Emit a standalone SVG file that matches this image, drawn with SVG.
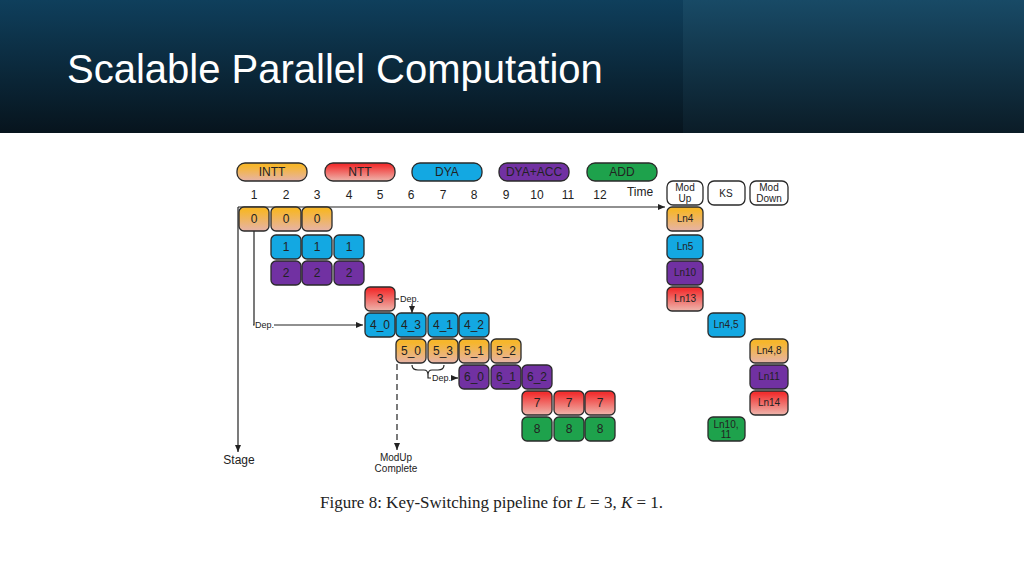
<svg xmlns="http://www.w3.org/2000/svg" width="1024" height="576" viewBox="0 0 1024 576">
<defs>
<linearGradient id="hd" x1="0" y1="0" x2="0" y2="1"><stop offset="0" stop-color="#0f3f5c"/><stop offset="1" stop-color="#07141d"/></linearGradient>
<linearGradient id="hd2" x1="0" y1="0" x2="0" y2="1"><stop offset="0" stop-color="#184a66"/><stop offset="1" stop-color="#0b1c27"/></linearGradient>
<linearGradient id="gi" x1="0" y1="0" x2="0" y2="1"><stop offset="0.15" stop-color="#f6b62c"/><stop offset="1" stop-color="#e6b3a8"/></linearGradient>
<linearGradient id="gn" x1="0" y1="0" x2="0" y2="1"><stop offset="0.1" stop-color="#f23030"/><stop offset="1" stop-color="#eeb6ad"/></linearGradient>
<marker id="ar" markerWidth="8" markerHeight="8" refX="7" refY="4" orient="auto" markerUnits="userSpaceOnUse"><path d="M0,1 L7,4 L0,7z" fill="#222"/></marker>
</defs>
<style>
.b{stroke:#2a2a2a;stroke-width:1.3}
.i{fill:url(#gi)}.n{fill:url(#gn)}.d{fill:#13a8e2}.p{fill:#7131a2}.g{fill:#1ea24c}.w{fill:#fff}
text{font-family:"Liberation Sans",Arial,sans-serif;fill:#222}
.t{font-size:12px;text-anchor:middle}
.s{font-size:10px;text-anchor:middle}
.x{font-size:9px}
.l{stroke:#222;stroke-width:1.2;fill:none}
</style>
<rect width="1024" height="133" fill="url(#hd)"/>
<rect x="683" width="341" height="133" fill="url(#hd2)"/>
<text x="67" y="83" style="font-size:40px;fill:#fff">Scalable Parallel Computation</text>
<g id="legend">
<rect class="b i" x="237" y="163" width="70" height="18" rx="8"/><text class="t" x="272" y="176">INTT</text>
<rect class="b n" x="325" y="163" width="70" height="18" rx="8"/><text class="t" x="360" y="176">NTT</text>
<rect class="b d" x="412" y="163" width="70" height="18" rx="8"/><text class="t" x="447" y="176">DYA</text>
<rect class="b p" x="499" y="163" width="70" height="18" rx="8"/><text class="t" x="534" y="176">DYA+ACC</text>
<rect class="b g" x="587" y="163" width="70" height="18" rx="8"/><text class="t" x="622" y="176">ADD</text>
</g>
<g id="axis">
<g class="t"><text x="254" y="199">1</text><text x="286" y="199">2</text><text x="317" y="199">3</text><text x="349" y="199">4</text><text x="380" y="199">5</text><text x="411" y="199">6</text><text x="443" y="199">7</text><text x="474" y="199">8</text><text x="506" y="199">9</text><text x="537" y="199">10</text><text x="568" y="199">11</text><text x="600" y="199">12</text><text x="640" y="196">Time</text></g>
<text class="t" x="239" y="464">Stage</text>
</g>
<g id="connectors">
<path class="l" d="M238,207 H665" marker-end="url(#ar)"/>
<path class="l" d="M238,207 V452" marker-end="url(#ar)"/>
<path class="l" d="M254,231 V325 H253"/>
<path class="l" d="M274,325 H363" marker-end="url(#ar)"/>
<path class="l" d="M395,299 H399"/>
<path class="l" d="M412,304 V313" marker-end="url(#ar)"/>
<path class="l" d="M397,364 V450" stroke-dasharray="6,4" marker-end="url(#ar)"/>
<path class="l" d="M412,365 q0,5 6,5 h6 q4,0 4,5 q0,-5 4,-5 h6 q6,0 6,-5" stroke-width="1"/>
<path class="l" d="M428,375 V378 H431"/>
<path class="l" d="M451,378 H458" marker-end="url(#ar)"/>
</g>
<g id="labels">
<text class="x" x="255" y="328">Dep.</text>
<text class="x" x="400" y="302">Dep.</text>
<text class="x" x="432" y="381">Dep.</text>
<text class="s" x="396" y="461">ModUp</text><text class="s" x="396" y="472">Complete</text>
</g>
<g id="stages" class="t" style="font-size:12px">
<g id="s0"><rect class="b i" x="239" y="207" width="30" height="24" rx="5"/><rect class="b i" x="271" y="207" width="30" height="24" rx="5"/><rect class="b i" x="302" y="207" width="30" height="24" rx="5"/><text x="254" y="223">0</text><text x="286" y="223">0</text><text x="317" y="223">0</text></g>
<g id="s1"><rect class="b d" x="271" y="235" width="30" height="24" rx="5"/><rect class="b d" x="302" y="235" width="30" height="24" rx="5"/><rect class="b d" x="334" y="235" width="30" height="24" rx="5"/><text x="286" y="251">1</text><text x="317" y="251">1</text><text x="349" y="251">1</text></g>
<g id="s2"><rect class="b p" x="271" y="261" width="30" height="24" rx="5"/><rect class="b p" x="302" y="261" width="30" height="24" rx="5"/><rect class="b p" x="334" y="261" width="30" height="24" rx="5"/><text x="286" y="277">2</text><text x="317" y="277">2</text><text x="349" y="277">2</text></g>
<g id="s3"><rect class="b n" x="365" y="287" width="30" height="24" rx="5"/><text x="380" y="303">3</text></g>
<g id="s4"><rect class="b d" x="365" y="313" width="30" height="24" rx="5"/><rect class="b d" x="396" y="313" width="30" height="24" rx="5"/><rect class="b d" x="428" y="313" width="30" height="24" rx="5"/><rect class="b d" x="459" y="313" width="30" height="24" rx="5"/><text x="380" y="329">4_0</text><text x="411" y="329">4_3</text><text x="443" y="329">4_1</text><text x="474" y="329">4_2</text></g>
<g id="s5"><rect class="b i" x="396" y="339" width="30" height="24" rx="5"/><rect class="b i" x="428" y="339" width="30" height="24" rx="5"/><rect class="b i" x="459" y="339" width="30" height="24" rx="5"/><rect class="b i" x="491" y="339" width="30" height="24" rx="5"/><text x="411" y="355">5_0</text><text x="443" y="355">5_3</text><text x="474" y="355">5_1</text><text x="506" y="355">5_2</text></g>
<g id="s6"><rect class="b p" x="459" y="365" width="30" height="24" rx="5"/><rect class="b p" x="491" y="365" width="30" height="24" rx="5"/><rect class="b p" x="522" y="365" width="30" height="24" rx="5"/><text x="474" y="381">6_0</text><text x="506" y="381">6_1</text><text x="537" y="381">6_2</text></g>
<g id="s7"><rect class="b n" x="522" y="391" width="30" height="24" rx="5"/><rect class="b n" x="554" y="391" width="30" height="24" rx="5"/><rect class="b n" x="585" y="391" width="30" height="24" rx="5"/><text x="537" y="407">7</text><text x="569" y="407">7</text><text x="600" y="407">7</text></g>
<g id="s8"><rect class="b g" x="522" y="417" width="30" height="24" rx="5"/><rect class="b g" x="554" y="417" width="30" height="24" rx="5"/><rect class="b g" x="585" y="417" width="30" height="24" rx="5"/><text x="537" y="433">8</text><text x="569" y="433">8</text><text x="600" y="433">8</text></g>
</g>
<g id="phases" class="s">
<rect class="b w" x="667" y="181" width="36" height="24" rx="6"/><text x="685" y="191">Mod</text><text x="685" y="202">Up</text>
<rect class="b w" x="708" y="181" width="37" height="24" rx="6"/><text x="726" y="197">KS</text>
<rect class="b w" x="750" y="181" width="38" height="24" rx="6"/><text x="769" y="191">Mod</text><text x="769" y="202">Down</text>
<rect class="b i" x="667" y="207" width="36" height="24" rx="5"/><text x="685" y="222">Ln4</text>
<rect class="b d" x="667" y="235" width="36" height="24" rx="5"/><text x="685" y="250">Ln5</text>
<rect class="b p" x="667" y="261" width="36" height="24" rx="5"/><text x="685" y="276">Ln10</text>
<rect class="b n" x="667" y="287" width="36" height="24" rx="5"/><text x="685" y="302">Ln13</text>
<rect class="b d" x="708" y="313" width="37" height="24" rx="5"/><text x="726" y="328">Ln4,5</text>
<rect class="b i" x="750" y="339" width="38" height="24" rx="5"/><text x="769" y="354">Ln4,8</text>
<rect class="b p" x="750" y="365" width="38" height="24" rx="5"/><text x="769" y="380">Ln11</text>
<rect class="b n" x="750" y="391" width="38" height="24" rx="5"/><text x="769" y="406">Ln14</text>
<rect class="b g" x="708" y="417" width="37" height="24" rx="5"/><text x="726" y="428">Ln10,</text><text x="726" y="438">11</text>
</g>
<text x="320" y="508" style="font-family:'Liberation Serif','Times New Roman',serif;font-size:17px">Figure 8: Key-Switching pipeline for <tspan font-style="italic">L</tspan> = 3, <tspan font-style="italic">K</tspan> = 1.</text>
</svg>
